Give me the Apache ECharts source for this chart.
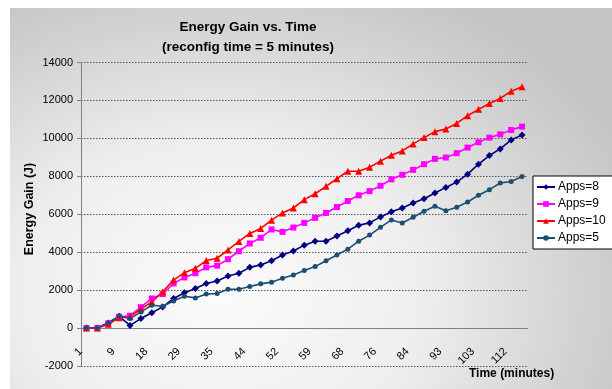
<!DOCTYPE html>
<html><head><meta charset="utf-8">
<script src="https://cdn.jsdelivr.net/npm/echarts@6/dist/echarts.min.js"></script>
<style>
html,body{margin:0;padding:0;background:#fff;}
#wrap{position:relative;width:612px;height:389px;overflow:hidden;background:#fff;}
#bg{position:absolute;left:10px;top:8px;width:602px;height:381px;
 background:radial-gradient(ellipse 75% 90% at 35% 75%, #fbfbfb 0%, #eeeeee 45%, #d2d2d2 80%, #c4c4c4 100%);}
#chart{position:absolute;left:0;top:0;width:612px;height:389px;}
</style></head>
<body><div id="wrap"><div id="bg"></div><div id="chart"></div></div>
<script>
// Time categories (minutes); every third one is labelled in the reference
var times = [1,3,6,9,12,15,18,22,25,29,31,33,35,38,41,44,47,49,52,54,57,59,62,65,68,71,73,76,79,81,84,87,90,93,96,99,103,106,109,112,115];
var apps8  = [0,0,265,620,140,500,810,1115,1560,1860,2090,2350,2480,2740,2890,3200,3330,3550,3850,4060,4370,4580,4580,4850,5130,5420,5545,5860,6130,6330,6590,6820,7120,7415,7695,8115,8640,9095,9445,9920,10180];
var apps9  = [0,0,250,600,650,1100,1560,1790,2350,2670,2890,3200,3290,3630,4050,4460,4760,5200,5070,5300,5545,5810,6070,6380,6700,7000,7220,7500,7840,8080,8340,8640,8920,8990,9220,9515,9795,10040,10215,10440,10620];
var apps10 = [0,0,200,550,600,1000,1380,1910,2530,2920,3150,3560,3680,4120,4570,4990,5250,5690,6070,6330,6770,7080,7470,7870,8270,8270,8480,8800,9110,9340,9710,10040,10355,10495,10790,11195,11530,11840,12105,12490,12720];
var apps5  = [0,0,265,620,500,850,1200,1150,1430,1680,1590,1790,1820,2050,2050,2190,2330,2420,2630,2800,3030,3240,3550,3850,4160,4580,4900,5310,5700,5540,5840,6155,6420,6190,6365,6645,7000,7295,7645,7730,7990];
var yMin = -2000, yMax = 14000, yStep = 2000;

var FONT = 'Liberation Sans, Arial, sans-serif';
var GRID = {left:81, right:84.5, top:62.5, bottom:23};
var plotH = 389 - GRID.top - GRID.bottom;
// raise the category axis (line, ticks and labels) to the value 0, as in the reference
var zeroOffset = -plotH * (0 - yMin) / (yMax - yMin);

var chart = echarts.init(document.getElementById('chart'), null, {renderer:'canvas'});
function ser(name, data, color, symbol, size){
  return {name:name, type:'line', data:data, symbol:symbol, symbolSize:size,
    lineStyle:{color:color, width:1.6}, itemStyle:{color:color}, animation:false};
}
chart.setOption({
  animation:false,
  textStyle:{fontFamily:FONT},
  title:{text:'Energy Gain vs. Time\n(reconfig time = 5 minutes)', left:243, top:12, textAlign:'center',
    textStyle:{fontSize:13.5, fontWeight:'bold', color:'#000', lineHeight:20, fontFamily:FONT}},
  grid:{left:GRID.left, right:GRID.right, top:GRID.top, bottom:GRID.bottom, containLabel:false},
  xAxis:{type:'category', data:times, boundaryGap:true, offset:zeroOffset,
    axisLine:{onZero:false, lineStyle:{color:'#808080', width:1}},
    axisTick:{interval:0, length:4, lineStyle:{color:'#808080'}},
    axisLabel:{interval:2, rotate:45, fontSize:11, color:'#000', margin:16, padding:[0,8,0,0], fontFamily:FONT},
    splitLine:{show:false}},
  yAxis:{type:'value', min:yMin, max:yMax, interval:yStep,
    axisLine:{show:true, lineStyle:{color:'#808080', width:1}},
    axisTick:{show:true, length:4, lineStyle:{color:'#808080'}},
    axisLabel:{fontSize:11, color:'#000', margin:8, fontFamily:FONT, formatter:function(v){return String(v);}},
    splitLine:{show:true, lineStyle:{color:'#555', type:[1.5,1.5], width:1}}},
  legend:{orient:'vertical', left:533, top:176, itemWidth:18, itemHeight:7, itemGap:5,
    data:['Apps=8','Apps=9','Apps=10','Apps=5'],
    backgroundColor:'#fff', borderColor:'#000', borderWidth:1, borderRadius:0,
    padding:[5,10,5,3], textStyle:{fontSize:12, color:'#000', fontFamily:FONT, padding:[0,0,0,-2]}},
  graphic:[
    {type:'text', x:30, y:209, rotation:Math.PI/2, style:{text:'Energy Gain (J)', font:'bold 12.5px '+FONT, fill:'#000', textAlign:'center', textVerticalAlign:'middle'}},
    {type:'text', left:469, top:368, style:{text:'Time (minutes)', font:'bold 12px '+FONT, fill:'#000'}}
  ],
  series:[
    ser('Apps=8', apps8, '#000080', 'diamond', 7),
    ser('Apps=9', apps9, '#FF00FF', 'rect', 6),
    ser('Apps=10', apps10, '#FF0000', 'triangle', 7),
    ser('Apps=5', apps5, '#1B4F72', 'circle', 5)
  ]
});
</script></body></html>
